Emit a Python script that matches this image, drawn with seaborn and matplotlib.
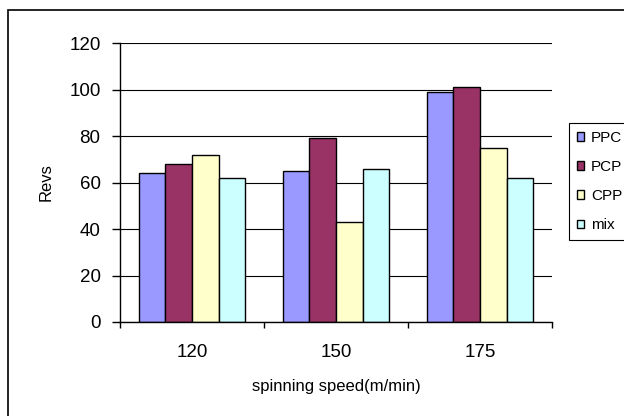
import matplotlib
matplotlib.use("Agg")
import matplotlib.pyplot as plt
from matplotlib.patches import Rectangle
import seaborn as sns
import pandas as pd

speeds = ["120", "150", "175"]
series = ["PPC", "PCP", "CPP", "mix"]
ppc = [64, 65, 99]
pcp = [68, 79, 101]
cpp = [72, 43, 75]
mix = [62, 66, 62]
colors = ["#9999FF", "#993366", "#FFFFCC", "#CCFFFF"]
yticks = [0, 20, 40, 60, 80, 100, 120]

rows = []
for name, vals in zip(series, [ppc, pcp, cpp, mix]):
    for s, v in zip(speeds, vals):
        rows.append({"speed": s, "series": name, "revs": v})
df = pd.DataFrame(rows)

sns.set_theme(style="white")
plt.rcParams["font.family"] = ["Liberation Sans", "DejaVu Sans"]
plt.rcParams["text.color"] = "black"
plt.rcParams["axes.labelcolor"] = "black"
plt.rcParams["xtick.color"] = "black"
plt.rcParams["ytick.color"] = "black"

fig = plt.figure(figsize=(6.24, 4.16), dpi=100)
ax = fig.add_axes([120 / 624, 1 - 322 / 416, 432 / 624, 279 / 416])

sns.barplot(data=df, x="speed", y="revs", hue="series", order=speeds,
            hue_order=series, palette=colors, width=0.74, saturation=1,
            edgecolor="black", linewidth=1.0, ax=ax, legend=True)

ax.set_xlim(-0.5, 2.5)
ax.set_ylim(0, 120)
ax.set_yticks(yticks)
ax.set_yticklabels([str(t) for t in yticks], fontsize=13.5)
ax.yaxis.grid(True, color="black", linewidth=0.8)
ax.set_axisbelow(True)
for sp in ["top", "right"]:
    ax.spines[sp].set_visible(False)
for sp in ["left", "bottom"]:
    ax.spines[sp].set_color("black")
    ax.spines[sp].set_linewidth(1.0)

ax.tick_params(axis="y", which="major", direction="out", length=6, width=1,
               color="black", left=True, pad=8)
ax.tick_params(axis="x", which="major", length=0, labelsize=13.5, pad=16)
ax.set_xticks([-0.5, 0.5, 1.5, 2.5], minor=True)
ax.tick_params(axis="x", which="minor", direction="out", length=4.5, width=1,
               color="black", bottom=True)

ax.set_xlabel("spinning speed(m/min)", fontsize=12, labelpad=13)
ax.set_ylabel("Revs", fontsize=12, labelpad=11)

handles, labels = ax.get_legend_handles_labels()
ax.legend(handles, labels, loc="upper left",
          bbox_to_anchor=(569 / 624, 1 - 123 / 416),
          bbox_transform=fig.transFigure, fontsize=11, frameon=True,
          fancybox=False, edgecolor="black", framealpha=1,
          handlelength=0.5, handleheight=0.5, handletextpad=0.45,
          labelspacing=1.0, borderpad=0.5, borderaxespad=0)
ax.get_legend().get_frame().set_linewidth(0.8)

# outer chart frame
fig.patches.append(Rectangle((8, -20), 700, 416 - 10 + 20, transform=None,
                             fill=False, edgecolor="black", linewidth=1.2))

fig.savefig("out.png", dpi=100)
